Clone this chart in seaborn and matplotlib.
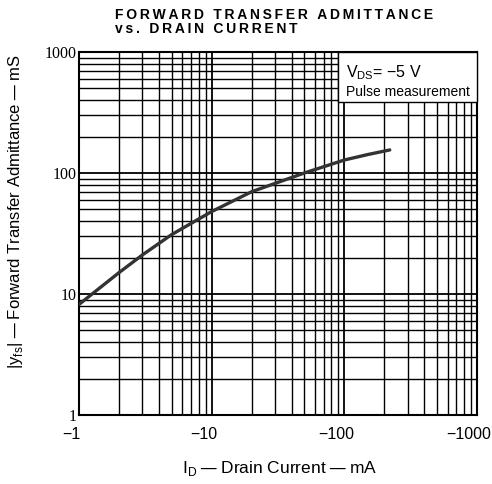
import numpy as np
import pandas as pd
import matplotlib
matplotlib.use("Agg")
import matplotlib.pyplot as plt
import matplotlib.transforms as mtransforms
import seaborn as sns
from matplotlib.patches import Rectangle
from matplotlib.ticker import FixedLocator, LogLocator, NullFormatter

# datos (|ID| en mA, |yfs| en mS)
drain_current = [1, 2, 3, 5, 10, 20, 50, 100, 150, 220]
yfs = [8.2, 15, 21, 31, 48, 70, 100, 128, 142, 155]

x_ticks = [1, 10, 100, 1000]
x_labels = ["\u22121", "\u221210", "\u2212100", "\u22121000"]
y_ticks = [1, 10, 100, 1000]
y_labels = ["1", "10", "100", "1000"]

sns.set_style("white")
plt.rcParams['font.family'] = ['Liberation Sans', 'DejaVu Sans']
plt.rcParams['text.color'] = 'black'
plt.rcParams['axes.labelcolor'] = 'black'
plt.rcParams['xtick.color'] = 'black'
plt.rcParams['ytick.color'] = 'black'

df = pd.DataFrame({'id': drain_current, 'yfs': yfs})

fig = plt.figure(figsize=(4.92, 4.84), dpi=100)
ax = fig.add_axes([0.1606, 0.1426, 0.8089, 0.75])

ax.set_xscale('log')
ax.set_yscale('log')
ax.set_xlim(1, 1000)
ax.set_ylim(1, 1000)

sns.lineplot(data=df, x='id', y='yfs', ax=ax, color='#333333', linewidth=2.4, zorder=5)

# papel logaritmico
ax.xaxis.set_major_locator(FixedLocator(x_ticks))
ax.yaxis.set_major_locator(FixedLocator(y_ticks))
ax.xaxis.set_minor_locator(LogLocator(base=10, subs=np.arange(2, 10)))
ax.yaxis.set_minor_locator(LogLocator(base=10, subs=np.arange(2, 10)))
ax.xaxis.set_minor_formatter(NullFormatter())
ax.yaxis.set_minor_formatter(NullFormatter())
ax.set_xticklabels(x_labels, fontsize=11.5)
ax.set_yticklabels(y_labels, fontsize=11.5, family=['Liberation Serif', 'DejaVu Serif'])
ax.grid(which='major', color='black', linewidth=1.3)
ax.grid(which='minor', color='black', linewidth=1.0)
ax.tick_params(which='both', length=0)
ax.tick_params(axis='x', pad=9)
ax.tick_params(axis='y', pad=2)
# las etiquetas del eje x van algo a la izquierda de la linea
shift = mtransforms.ScaledTranslation(-8 / 100, 0, fig.dpi_scale_trans)
for lab in ax.get_xticklabels():
    lab.set_transform(lab.get_transform() + shift)
for s in ax.spines.values():
    s.set_color('black')
    s.set_linewidth(1.5)

ax.set_xlabel("I$_\\mathregular{D}$\u2009\u2014\u2009Drain Current\u2009\u2014\u2009mA", fontsize=12.5)
ax.xaxis.set_label_coords(0.505, -0.12)
ax.set_ylabel("|y$_\\mathregular{fs}$|\u2009\u2014\u2009Forward Transfer Admittance\u2009\u2014\u2009mS", fontsize=12)
ax.yaxis.set_label_coords(-0.136, 0.56)

# recuadro de condiciones
ax.add_patch(Rectangle((0.652, 0.862), 0.348, 0.138, transform=ax.transAxes,
                       facecolor='white', edgecolor='black', linewidth=1.0, zorder=8, clip_on=False))
ax.text(0.672, 0.97, "V$_\\mathregular{DS}$= \u22125 V", transform=ax.transAxes,
        ha='left', va='top', fontsize=11.5, zorder=10)
ax.text(0.672, 0.908, "Pulse measurement", transform=ax.transAxes,
        ha='left', va='top', fontsize=10, zorder=10)

fig.text(0.234, 0.968, "\u2009".join("FORWARD TRANSFER ADMITTANCE"),
         fontsize=10, fontweight='bold', ha='left', va='center',
         family=['Liberation Sans', 'DejaVu Sans'])
fig.text(0.234, 0.941, "\u2009".join("vs. DRAIN CURRENT"),
         fontsize=10, fontweight='bold', ha='left', va='center',
         family=['Liberation Sans', 'DejaVu Sans'])

fig.savefig("out.png", dpi=100)
